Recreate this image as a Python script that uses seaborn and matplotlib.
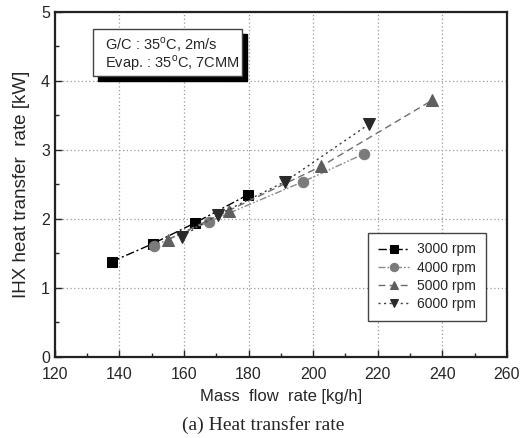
import matplotlib
matplotlib.use("Agg")
import matplotlib.pyplot as plt
from matplotlib.patches import Rectangle
from matplotlib.ticker import MultipleLocator
import seaborn as sns

# data
flow_3000 = [137.6, 150.3, 163.3, 179.8]
heat_3000 = [1.38, 1.64, 1.94, 2.35]
flow_4000 = [150.6, 167.7, 196.9, 215.6]
heat_4000 = [1.61, 1.96, 2.54, 2.94]
flow_5000 = [155.0, 173.8, 202.4, 236.9]
heat_5000 = [1.70, 2.12, 2.76, 3.72]
flow_6000 = [159.3, 170.5, 191.3, 217.2]
heat_6000 = [1.745, 2.06, 2.54, 3.37]
labels = ["3000 rpm", "4000 rpm", "5000 rpm", "6000 rpm"]

sns.set_style("ticks")
plt.rcParams["font.family"] = ["Liberation Sans", "DejaVu Sans"]

fig = plt.figure(figsize=(5.27, 4.38), dpi=100)
ax = fig.add_axes([0.104, 0.185, 0.858, 0.788])

series = [
    (flow_3000, heat_3000, "s", 7, (0, (6, 2, 1.5, 2)), "black", "black"),
    (flow_4000, heat_4000, "o", 7.5, (0, (5, 1.5, 1.2, 1.5, 1.2, 1.5)), "#8a8a8a", "#7a7a7a"),
    (flow_5000, heat_5000, "^", 8.5, (0, (5, 3)), "#6e6e6e", "#5e5e5e"),
    (flow_6000, heat_6000, "v", 8.5, (0, (1.5, 2.5)), "#3a3a3a", "#2a2a2a"),
]
for (x, y, m, ms, ls, lc, mc), lab in zip(series, labels):
    sns.lineplot(x=x, y=y, ax=ax, color=lc, linestyle=ls, linewidth=1.0,
                 marker=m, markersize=ms, markerfacecolor=mc,
                 markeredgecolor=mc, label=lab)

ax.set_xlim(120, 260)
ax.set_ylim(0, 5)
ax.xaxis.set_major_locator(MultipleLocator(20))
ax.xaxis.set_minor_locator(MultipleLocator(10))
ax.yaxis.set_major_locator(MultipleLocator(1))
ax.yaxis.set_minor_locator(MultipleLocator(0.5))
ax.tick_params(which="both", direction="in", top=False, right=False,
               labelsize=11.5, width=1.0)
ax.tick_params(axis="x", pad=7)
ax.tick_params(which="major", length=5)
ax.tick_params(which="minor", length=3)
ax.grid(True, which="major", linestyle=(0, (1, 2)), color="#999999", linewidth=0.9)
for s in ax.spines.values():
    s.set_linewidth(1.6)
    s.set_color("#222222")

ax.set_xlabel("Mass  flow  rate [kg/h]", fontsize=12, labelpad=5)
ax.set_ylabel("IHX heat transfer  rate [kW]", fontsize=13.5, labelpad=8)

# condition box with shadow
ax.add_patch(Rectangle((0.095, 0.80), 0.33, 0.136, transform=ax.transAxes,
                       facecolor="black", edgecolor="black", zorder=5))
ax.add_patch(Rectangle((0.084, 0.814), 0.33, 0.136, transform=ax.transAxes,
                       facecolor="white", edgecolor="#444444", linewidth=1.0, zorder=6))
ax.text(0.11, 0.905, "G/C : 35$^{\\mathregular{o}}$C, 2m/s", transform=ax.transAxes,
        fontsize=10.5, va="center", zorder=7)
ax.text(0.11, 0.852, "Evap. : 35$^{\\mathregular{o}}$C, 7CMM", transform=ax.transAxes,
        fontsize=10.5, va="center", zorder=7)

leg = ax.legend(loc="lower right", bbox_to_anchor=(0.968, 0.085), fontsize=10,
                fancybox=False, framealpha=1, edgecolor="#444444",
                handlelength=2.3, borderpad=0.7, labelspacing=0.3, handletextpad=0.5)
leg.get_frame().set_linewidth(1.0)
for h in leg.legend_handles:
    h.set_markersize(6)

fig.text(0.5, 0.01, "(a) Heat transfer rate", ha="center", va="bottom",
         fontsize=14, family=["Liberation Serif", "DejaVu Serif"])

fig.savefig("out.png", dpi=100)
